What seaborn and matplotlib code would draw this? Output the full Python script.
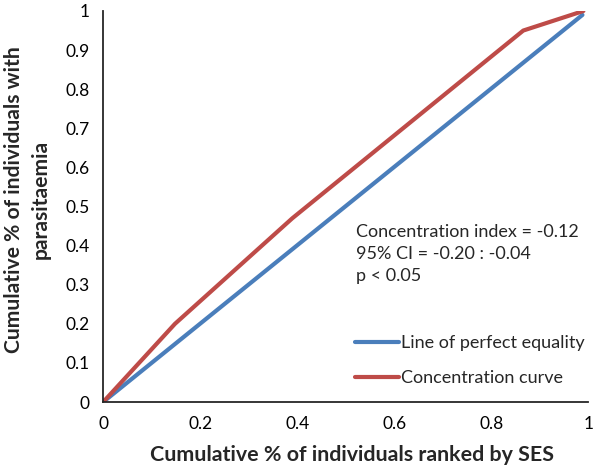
import matplotlib
matplotlib.use("Agg")
import matplotlib.pyplot as plt
import seaborn as sns
import pandas as pd

equality_x = [0.0, 0.988]
equality_y = [0.0, 0.99]
curve_x = [0.0, 0.148, 0.39, 0.866, 0.99]
curve_y = [0.0, 0.2, 0.47, 0.95, 1.0]
x_ticks = [0, 0.2, 0.4, 0.6, 0.8, 1]
y_ticks = [0, 0.1, 0.2, 0.3, 0.4, 0.5, 0.6, 0.7, 0.8, 0.9, 1]

sns.set_style("white")
plt.rcParams['font.family'] = ['Lato', 'DejaVu Sans']

df = pd.concat([
    pd.DataFrame({"x": equality_x, "y": equality_y, "series": "Line of perfect equality"}),
    pd.DataFrame({"x": curve_x, "y": curve_y, "series": "Concentration curve"}),
])

fig = plt.figure(figsize=(5.93, 4.68), dpi=100)
ax = fig.add_axes([0.174, 0.141, 0.818, 0.8355])
sns.lineplot(data=df, x="x", y="y", hue="series", sort=False,
             palette={"Line of perfect equality": "#4a7ebb", "Concentration curve": "#be4b48"},
             linewidth=3, ax=ax, estimator=None)

ax.set_xlim(0, 1)
ax.set_ylim(0, 1)
ax.set_xticks(x_ticks)
ax.set_xticklabels([f"{t:g}" for t in x_ticks])
ax.set_yticks(y_ticks)
ax.set_yticklabels([f"{t:g}" for t in y_ticks])
for s in ["top", "right"]:
    ax.spines[s].set_visible(False)
for s in ["left", "bottom"]:
    ax.spines[s].set_color("#262626")
    ax.spines[s].set_linewidth(1.3)
ax.tick_params(axis="both", direction="out", length=5, width=1.3, color="#262626",
               labelsize=12.5, labelcolor="black", pad=5)
ax.set_xlabel("Cumulative % of individuals ranked by SES", fontsize=15.4, fontweight="bold")
ax.xaxis.set_label_coords(0.513, -0.135)
ax.xaxis.label.set_va("center")
ax.set_ylabel("Cumulative % of individuals with\nparasitaemia", fontsize=15.2, fontweight="bold",
              linespacing=1.45)
ax.yaxis.set_label_coords(-0.108, 0.517)

ax.text(0.522, 0.378, "Concentration index = -0.12\n95% CI = -0.20 : -0.04\np < 0.05",
        transform=ax.transAxes, fontsize=13, va="center", ha="left", linespacing=1.45)

leg = ax.legend(loc="center left", bbox_to_anchor=(0.52, 0.106), frameon=False,
                fontsize=13, handlelength=2.4, handletextpad=0.12, labelspacing=1.05,
                borderpad=0, borderaxespad=0)
for line in leg.get_lines():
    line.set_linewidth(3)

fig.savefig("out.png", dpi=100)
